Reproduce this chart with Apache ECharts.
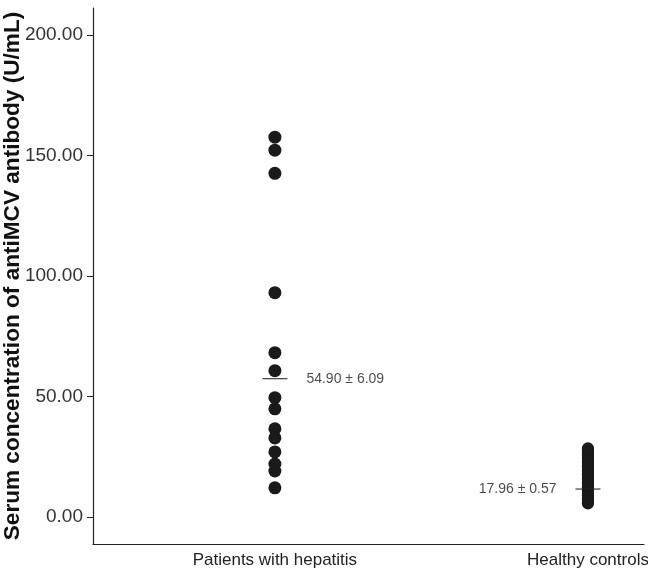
<!DOCTYPE html>
<html>
<head>
<meta charset="utf-8">
<script src="https://cdn.jsdelivr.net/npm/echarts@6/dist/echarts.min.js"></script>
<style>html,body{margin:0;padding:0;background:#fff;}#main{width:648px;height:571px;}</style>
</head>
<body>
<div id="main"></div>
<script>
var categories = ['Patients with hepatitis', 'Healthy controls'];
var yTicks = [0, 50, 100, 150, 200];
var patients = [157.6, 152.2, 142.6, 93.1, 68.2, 60.7, 49.5, 44.9, 36.6, 32.8, 27.0, 22.0, 19.1, 12.1];
var controls = [5.6, 6.1, 6.7, 7.2, 7.8, 8.3, 8.9, 9.4, 10.0, 10.5, 11.1, 11.6, 12.2, 12.7, 13.3, 13.8,
  14.4, 14.9, 15.5, 16.0, 16.6, 17.1, 17.7, 18.2, 18.8, 19.3, 19.9, 20.4, 21.0, 21.5, 22.1, 22.6,
  23.2, 23.7, 24.3, 24.8, 25.4, 25.9, 26.5, 27.0, 27.6, 28.1, 28.5];
var meanLine = [57.4, 11.6];
var meanLabels = ['54.90 ± 6.09', '17.96 ± 0.57'];

var chart = echarts.init(document.getElementById('main'));
var font = 'Liberation Sans, Arial, sans-serif';
chart.setOption({
  animation: false,
  backgroundColor: '#fff',
  grid: { left: 93, right: 4, top: 8, bottom: 27, containLabel: false, outerBoundsMode: 'none' },
  xAxis: {
    type: 'value', min: -0.581, max: 1.179,
    splitLine: { show: false },
    axisLine: { show: true, onZero: false, lineStyle: { color: '#222', width: 1.2 } },
    axisTick: { show: false },
    axisLabel: {
      customValues: [0, 1],
      formatter: function (v) { return categories[Math.round(v)] || ''; },
      color: '#222', fontSize: 17, fontFamily: font, margin: 8
    }
  },
  yAxis: {
    type: 'value', min: -11.2, max: 211.2,
    name: 'Serum concentration of antiMCV antibody (U/mL)',
    nameLocation: 'middle', nameGap: 69, nameMoveOverlap: false,
    nameTextStyle: { fontSize: 22.6, fontWeight: 'bold', color: '#111', fontFamily: font },
    splitLine: { show: false },
    axisLine: { show: true, onZero: false, lineStyle: { color: '#222', width: 1.2 } },
    axisTick: { show: true, length: 6, customValues: yTicks, lineStyle: { color: '#222' } },
    axisLabel: {
      customValues: yTicks,
      formatter: function (v) { return v.toFixed(2); },
      color: '#333', fontSize: 19, fontFamily: font, margin: 10
    }
  },
  series: [
    {
      type: 'scatter', symbol: 'circle', symbolSize: 13,
      itemStyle: { color: '#1a1a1a', opacity: 1 },
      data: patients.map(function (v) { return [0, v]; })
    },
    {
      type: 'scatter', symbol: 'circle', symbolSize: 12,
      itemStyle: { color: '#1a1a1a', opacity: 1 },
      data: controls.map(function (v) { return [1, v]; })
    },
    {
      type: 'scatter', symbol: 'rect', symbolSize: [25, 1.3], z: 5,
      itemStyle: { color: '#222' },
      data: meanLine.map(function (v, i) {
        return {
          value: [i, v],
          label: {
            show: true, formatter: meanLabels[i],
            position: i === 0 ? 'right' : 'left', distance: 19,
            color: '#1a1a1a', fontSize: 14, fontFamily: font
          }
        };
      })
    }
  ]
});
</script>
</body>
</html>
